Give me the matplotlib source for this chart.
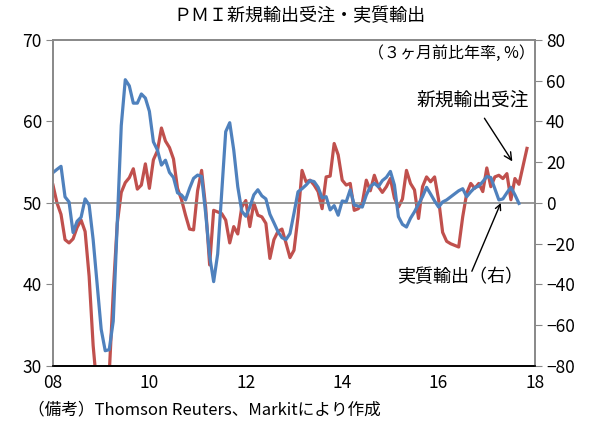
import numpy as np
import matplotlib.pyplot as plt

plt.rcParams['font.family'] = ['Noto Sans CJK JP', 'DejaVu Sans']

# PMI new export orders (left axis), monthly from Jan 2008
pmi = [52.2, 50.0, 48.6, 45.5, 45.1, 45.6, 47.0, 47.9, 46.5, 41.0,
       32.5, 27.0, 25.0, 26.0, 29.0, 39.0, 47.5, 51.3, 52.5, 53.1,
       54.2, 51.7, 52.2, 54.8, 51.8, 55.3, 56.4, 59.2, 57.6, 56.8,
       55.4, 51.8, 50.4, 48.5, 46.8, 46.7, 51.5, 54.0, 49.5, 42.4,
       49.1, 48.9, 48.7, 47.9, 45.1, 47.1, 46.2, 49.5, 50.3, 47.1,
       50.0, 48.5, 48.3, 47.5, 43.2, 45.5, 46.5, 46.8, 45.1, 43.3,
       44.2, 48.3, 54.0, 52.6, 52.8, 52.2, 51.4, 49.3, 53.2, 53.3,
       57.3, 55.9, 52.8, 52.2, 52.4, 49.1, 49.3, 50.0, 52.8, 51.5,
       53.4, 52.0, 51.3, 52.0, 53.0, 50.6, 49.5, 50.5, 54.0, 52.4,
       51.6, 48.1, 52.0, 53.2, 52.6, 53.2, 50.4, 46.4, 45.3, 45.0,
       44.8, 44.6, 48.3, 51.2, 52.4, 51.8, 52.4, 51.4, 54.3, 52.0,
       53.2, 53.4, 53.0, 53.6, 50.4, 53.0, 52.3, 54.5, 56.7]

# real exports, 3-month annualised % change (right axis)
exports = [14.9, 16.5, 18.0, 3.0, 0.5, -14.5, -9.0, -7.0, 2.0, -1.0,
           -18.0, -40.0, -62.0, -72.5, -72.0, -58.0, -10.0, 38.0, 60.5, 57.5,
           49.0, 49.0, 53.5, 51.5, 45.0, 30.0, 26.0, 18.6, 21.0, 15.0,
           12.5, 5.0, 3.9, 1.5, 7.2, 12.1, 13.7, 13.0, -5.0, -26.0,
           -38.6, -25.0, 5.0, 35.0, 39.4, 26.0, 8.0, -4.0, -6.5, -2.0,
           4.0, 6.5, 3.5, 2.0, -5.5, -9.7, -14.0, -17.0, -18.0, -15.0,
           -5.0, 5.5, 7.0, 8.8, 11.0, 10.5, 7.7, 2.5, 3.1, -3.4,
           -1.3, -6.0, 1.0, 0.6, 6.5, -1.0, -1.5, -2.0, 3.9, 8.0,
           9.7, 8.0, 11.0, 12.6, 15.5, 8.8, -6.7, -10.5, -11.8, -7.5,
           -4.3, -0.5, 3.1, 7.7, 4.4, 1.0, -2.0, 0.5, 1.5, 3.0,
           4.5, 6.0, 7.0, 3.1, 5.5, 7.5, 8.3, 10.5, 13.0, 12.5,
           7.0, 1.5, 2.0, 5.0, 7.7, 4.0, -0.2]

x_pmi = 2008 + np.arange(len(pmi)) / 12
x_exp = 2008 + np.arange(len(exports)) / 12

year_ticks = [2008, 2010, 2012, 2014, 2016, 2018]
year_labels = ['08', '10', '12', '14', '16', '18']

red = '#C0504D'
blue = '#4F81BD'
grey = '#888888'

fig = plt.figure(figsize=(5.9, 4.24), dpi=100)
ax = fig.add_axes([0.0898, 0.1368, 0.817, 0.7689])
ax2 = ax.twinx()

ax.plot(x_pmi, pmi, color=red, lw=2.3, solid_joinstyle='round')
ax2.axhline(0, color=grey, lw=1.2)
ax2.plot(x_exp, exports, color=blue, lw=2.3, solid_joinstyle='round')

ax.set_xlim(2008, 2018)
ax.set_ylim(30, 70)
ax2.set_ylim(-80, 80)
ax.set_yticks([30, 40, 50, 60, 70])
ax2.set_yticks(np.arange(-80, 81, 20))
ax.set_xticks(year_ticks)
ax.set_xticklabels(year_labels)

for a in (ax, ax2):
    for s in a.spines.values():
        s.set_color(grey)
        s.set_linewidth(1.2)
    a.spines['bottom'].set_color('black')
ax.tick_params(axis='y', length=5, color=grey, labelsize=12.5, pad=3)
ax2.tick_params(axis='y', length=5, color=grey, labelsize=12.5, pad=3)
ax.tick_params(axis='x', length=0, labelsize=12.5, pad=6)

fig.text(0.508, 0.963, 'ＰＭＩ新規輸出受注・実質輸出', ha='center', va='center', fontsize=13)
ax.text(1.0, 0.96, '（３ヶ月前比年率, %）', transform=ax.transAxes,
        ha='right', va='center', fontsize=11.5)

ax.annotate('新規輸出受注', xy=(2017.53, 55.1), xytext=(2016.71, 62.6),
            ha='center', va='center', fontsize=13.5,
            arrowprops=dict(arrowstyle='->', color='black', lw=1,
                            shrinkA=4, shrinkB=0))
ax2.annotate('', xy=(2017.29, 0), xytext=(2016.69, -33.5),
             arrowprops=dict(arrowstyle='->', color='black', lw=1,
                             shrinkA=0, shrinkB=0))
ax2.text(2016.44, -36.5, '実質輸出（右）', ha='center', va='center', fontsize=13)

fig.text(0.047, 0.033, '（備考）Thomson Reuters、Markitにより作成', ha='left', va='center', fontsize=12)

fig.savefig('out.png', dpi=100)
